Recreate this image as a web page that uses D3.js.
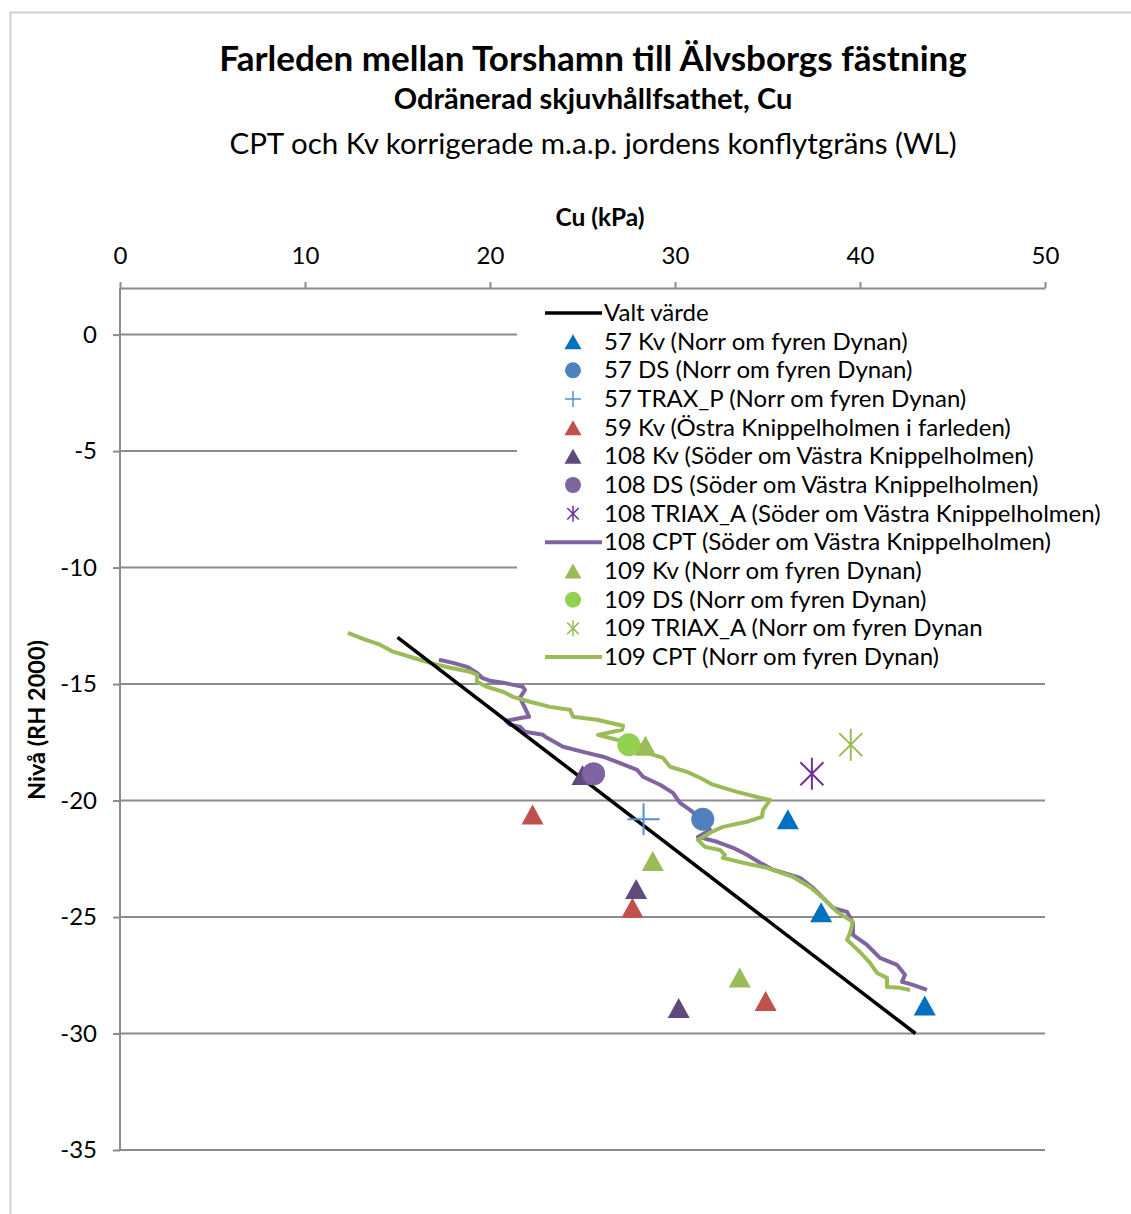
<!DOCTYPE html>
<html>
<head>
<meta charset="utf-8">
<script src="https://cdn.jsdelivr.net/npm/d3@7"></script>
<style>
body { margin: 0; background: #fff; }
text { font-family: Lato, "Noto Sans", sans-serif; fill: #000; }
</style>
</head>
<body>
<div id="graph"></div>
<script>
// axis ticks
var xTicks = [0, 10, 20, 30, 40, 50];
var yTicks = [0, -5, -10, -15, -20, -25, -30, -35];

// [Cu kPa, nivå]
var valtVarde = [[15, -13], [43, -30]];
var kv57 = [[36.1, -20.8], [37.9, -24.8], [43.5, -28.8]];
var ds57 = [[31.5, -20.8]];
var trax57 = [[28.3, -20.8]];
var kv59 = [[22.3, -20.6], [27.7, -24.6], [34.9, -28.6]];
var kv108 = [[25.0, -18.9], [27.9, -23.8], [30.2, -28.9]];
var ds108 = [[25.6, -18.85]];
var triax108 = [[37.4, -18.85]];
var kv109 = [[28.4, -17.65], [28.8, -22.6], [33.5, -27.6]];
var ds109 = [[27.5, -17.6]];
var triax109 = [[39.5, -17.6]];

var cpt108 = [
	[17.24, -13.96], [18.0, -14.09], [18.76, -14.26], [19.3, -14.52], [19.57, -14.73],
	[20.0, -14.86], [20.7, -14.94], [21.78, -15.12], [21.89, -15.25], [21.62, -15.59],
	[21.89, -16.02], [22.11, -16.4], [21.73, -16.45], [20.86, -16.58], [21.08, -16.75],
	[21.62, -16.83], [21.89, -17.05], [22.86, -17.18], [23.08, -17.31], [23.95, -17.69],
	[25.03, -17.91], [26.11, -18.12], [26.86, -18.34], [27.95, -18.68], [28.27, -18.98],
	[29.19, -19.32], [29.89, -19.67], [30.27, -20.1], [30.81, -20.4], [31.51, -20.83],
	[31.89, -21.26], [31.24, -21.56], [32.27, -21.77], [33.14, -22.03], [33.89, -22.33],
	[34.59, -22.67], [35.3, -22.97], [36.76, -23.32], [37.46, -23.75], [38.0, -24.18],
	[38.54, -24.61], [39.3, -24.78], [39.62, -25.25], [39.62, -25.77], [40.38, -26.2],
	[41.08, -26.75], [42.0, -27.05], [42.43, -27.48], [42.27, -27.78], [42.86, -27.91],
	[43.62, -28.13]
];

var cpt109 = [
	[12.32, -12.8], [13.14, -13.06], [14.05, -13.31], [14.76, -13.61], [15.84, -13.87],
	[16.76, -14.09], [17.84, -14.3], [18.92, -14.47], [19.3, -14.6], [19.3, -14.9],
	[19.84, -15.12], [20.7, -15.33], [21.24, -15.55], [22.16, -15.76], [23.24, -15.98],
	[24.32, -16.1], [24.49, -16.4], [25.78, -16.53], [27.19, -16.79], [27.14, -16.96],
	[25.84, -17.18], [26.86, -17.39], [28.11, -17.61], [28.49, -17.95], [29.35, -18.17],
	[29.73, -18.55], [30.65, -18.77], [31.35, -19.02], [32.05, -19.32], [33.35, -19.63],
	[34.59, -19.88], [35.14, -19.97], [34.76, -20.4], [34.7, -20.7], [33.89, -20.91],
	[32.59, -21.13], [32.0, -21.34], [31.24, -21.69], [31.62, -21.99], [32.43, -22.12],
	[32.7, -22.33], [32.59, -22.46], [33.68, -22.67], [34.97, -22.89], [36.38, -23.28],
	[37.3, -23.71], [38.0, -24.18], [38.76, -24.78], [39.62, -25.21], [39.46, -25.68],
	[39.3, -25.98], [40.0, -26.5], [40.54, -26.97], [40.92, -27.4], [41.46, -27.61],
	[41.46, -28.0], [42.16, -28.04], [42.7, -28.13]
];

var width = 1131, height = 1214;
var plotLeft = 120, plotRight = 1045, plotTop = 288, plotBottom = 1150;

var xScale = d3.scaleLinear().domain([0, 50]).range([plotLeft, plotRight]);
var yScale = d3.scaleLinear().domain([2, -35]).range([plotTop, plotBottom]);

var svg = d3.select("#graph").append("svg")
	.attr("width", width)
	.attr("height", height);

// outer frame
svg.append("rect")
	.attr("x", 10.5).attr("y", 12.5)
	.attr("width", width).attr("height", height)
	.attr("fill", "none").attr("stroke", "#d0d0d0").attr("stroke-width", 2);

// titles
svg.append("text").attr("x", 593).attr("y", 71).attr("text-anchor", "middle")
	.style("font-size", "35px").style("font-weight", "bold")
	.text("Farleden mellan Torshamn till Älvsborgs fästning");
svg.append("text").attr("x", 593).attr("y", 109).attr("text-anchor", "middle")
	.style("font-size", "29px").style("font-weight", "bold")
	.text("Odränerad skjuvhållfsathet, Cu");
svg.append("text").attr("x", 593).attr("y", 154).attr("text-anchor", "middle")
	.style("font-size", "29.5px")
	.text("CPT och Kv korrigerade m.a.p. jordens konflytgräns (WL)");

// axis titles
svg.append("text").attr("x", 600).attr("y", 226).attr("text-anchor", "middle")
	.style("font-size", "24.5px").style("font-weight", "bold")
	.text("Cu (kPa)");
svg.append("text")
	.attr("transform", "translate(45, 720) rotate(-90)")
	.attr("text-anchor", "middle")
	.style("font-size", "23.5px").style("font-weight", "bold")
	.text("Nivå (RH 2000)");

// gridlines
svg.append("g").selectAll("line")
	.data(yTicks)
	.join("line")
	.attr("x1", plotLeft).attr("x2", plotRight)
	.attr("y1", function (d) { return yScale(d); })
	.attr("y2", function (d) { return yScale(d); })
	.attr("stroke", "#8c8c8c").attr("stroke-width", 2);

// top x axis
var xAxis = d3.axisTop(xScale).tickValues(xTicks).tickSizeInner(6).tickSizeOuter(0)
	.tickPadding(18);
var gx = svg.append("g").attr("transform", "translate(0," + plotTop + ")").call(xAxis);
gx.selectAll("path, line").attr("stroke", "#8c8c8c").attr("stroke-width", 2);
gx.selectAll("text").style("font-size", "24px").attr("fill", "#000")
	.style("font-family", "Lato, sans-serif");

var yAxis = d3.axisLeft(yScale).tickValues(yTicks).tickSizeInner(7).tickSizeOuter(0)
	.tickPadding(16);
var gy = svg.append("g").attr("transform", "translate(" + plotLeft + ",0)").call(yAxis);
gy.select(".domain").attr("d", "M0," + plotTop + "V" + plotBottom);
gy.selectAll("path, line").attr("stroke", "#8c8c8c").attr("stroke-width", 2);
gy.selectAll("text").style("font-size", "24px").attr("fill", "#000")
	.style("font-family", "Lato, sans-serif")
	.text(function (d) { return d < 0 ? "-" + Math.abs(d) : d; });

// marker shapes
function triPath(w, h) {
	return "M0," + (-h / 2) + "L" + (w / 2) + "," + (h / 2) + "L" + (-w / 2) + "," + (h / 2) + "Z";
}
function plusPath(s) {
	return "M" + (-s) + ",0H" + s + "M0," + (-s) + "V" + s;
}
function starPath(s) {
	var d = s * 0.72;
	return "M0," + (-s) + "V" + s + "M" + (-d) + "," + (-d) + "L" + d + "," + d +
		"M" + d + "," + (-d) + "L" + (-d) + "," + d;
}

var line = d3.line()
	.x(function (d) { return xScale(d[0]); })
	.y(function (d) { return yScale(d[1]); });

var plot = svg.append("g");

function drawLine(data, color, w) {
	plot.append("path").datum(data)
		.attr("fill", "none").attr("stroke", color).attr("stroke-width", w)
		.attr("stroke-linejoin", "round")
		.attr("d", line);
}

function drawMarkers(data, kind, color) {
	var sel = plot.append("g").selectAll("path").data(data).join("path")
		.attr("transform", function (d) {
			return "translate(" + xScale(d[0]) + "," + yScale(d[1]) + ")";
		});
	if (kind == "tri") {
		sel.attr("d", triPath(22, 20)).attr("fill", color);
	} else if (kind == "circle") {
		sel.attr("d", d3.symbol(d3.symbolCircle, Math.PI * 11.5 * 11.5)()).attr("fill", color);
	} else if (kind == "plus") {
		sel.attr("d", plusPath(16)).attr("fill", "none").attr("stroke", color).attr("stroke-width", 2);
	} else {
		sel.attr("d", starPath(16)).attr("fill", "none").attr("stroke", color).attr("stroke-width", 2);
	}
}

var series = [
	{ name: "Valt värde", data: valtVarde, kind: "line", color: "#000000", w: 3.5 },
	{ name: "57 Kv (Norr om fyren Dynan)", data: kv57, kind: "tri", color: "#0070c0" },
	{ name: "57 DS (Norr om fyren Dynan)", data: ds57, kind: "circle", color: "#4f81bd" },
	{ name: "57 TRAX_P (Norr om fyren Dynan)", data: trax57, kind: "plus", color: "#558ed5" },
	{ name: "59 Kv (Östra Knippelholmen i farleden)", data: kv59, kind: "tri", color: "#c0504d" },
	{ name: "108 Kv (Söder om Västra Knippelholmen)", data: kv108, kind: "tri", color: "#604a7b" },
	{ name: "108 DS (Söder om Västra Knippelholmen)", data: ds108, kind: "circle", color: "#8064a2" },
	{ name: "108 TRIAX_A (Söder om Västra Knippelholmen)", data: triax108, kind: "star", color: "#7030a0" },
	{ name: "108 CPT (Söder om Västra Knippelholmen)", data: cpt108, kind: "line", color: "#8064a2", w: 4 },
	{ name: "109 Kv (Norr om fyren Dynan)", data: kv109, kind: "tri", color: "#9bbb59" },
	{ name: "109 DS (Norr om fyren Dynan)", data: ds109, kind: "circle", color: "#92d050" },
	{ name: "109 TRIAX_A (Norr om fyren Dynan", data: triax109, kind: "star", color: "#9bbb59" },
	{ name: "109 CPT (Norr om fyren Dynan)", data: cpt109, kind: "line", color: "#9bbb59", w: 4 }
];

// draw CPT lines first, then the chosen line, then markers
drawLine(cpt108, "#8064a2", 4);
drawLine(cpt109, "#9bbb59", 4);
drawLine(valtVarde, "#000000", 3.5);
series.forEach(function (s) {
	if (s.kind != "line") drawMarkers(s.data, s.kind, s.color);
});

// legend
var legend = svg.append("g").attr("transform", "translate(517,296)");
legend.append("rect").attr("x", 0).attr("y", 0).attr("width", 610).attr("height", 376)
	.attr("fill", "#fff");
series.forEach(function (s, i) {
	var y = 17 + i * 28.67;
	var g = legend.append("g").attr("transform", "translate(56," + y + ")");
	if (s.kind == "line") {
		g.append("line").attr("x1", -28).attr("x2", 29).attr("y1", 0).attr("y2", 0)
			.attr("stroke", s.color).attr("stroke-width", s.w);
	} else if (s.kind == "tri") {
		g.append("path").attr("d", triPath(17, 15)).attr("fill", s.color);
	} else if (s.kind == "circle") {
		g.append("path").attr("d", d3.symbol(d3.symbolCircle, Math.PI * 64)()).attr("fill", s.color);
	} else if (s.kind == "plus") {
		g.append("path").attr("d", plusPath(8)).attr("stroke", s.color).attr("stroke-width", 1.5);
	} else {
		g.append("path").attr("d", starPath(8)).attr("stroke", s.color).attr("stroke-width", 1.5);
	}
	legend.append("text").attr("x", 87).attr("y", y + 8)
		.style("font-size", "24px").text(s.name);
});
</script>
</body>
</html>
